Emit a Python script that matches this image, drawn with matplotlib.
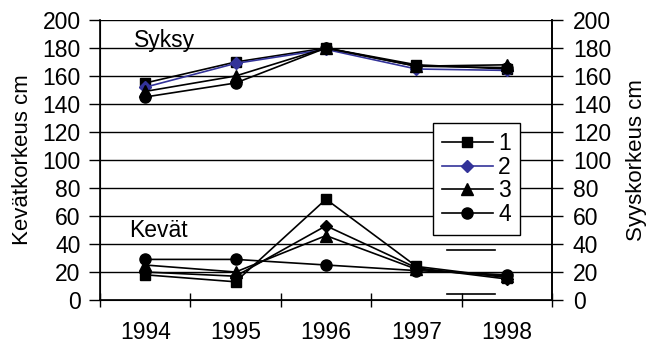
import numpy as np
import matplotlib
matplotlib.use("Agg")
import matplotlib.pyplot as plt

plt.rcParams['font.family'] = ['Liberation Sans', 'DejaVu Sans']

years = ['1994', '1995', '1996', '1997', '1998']
labels = ['1', '2', '3', '4']

# autumn (Syksy) heights
syksy_1 = [155, 170, 180, 168, 165]
syksy_2 = [152, 169, 179, 165, 164]
syksy_3 = [149, 160, 180, 167, 168]
syksy_4 = [145, 155, 180, 167, 166]

# spring (Kevät) heights
kevat_1 = [18, 13, 72, 24, 16]
kevat_2 = [20, 17, 53, 23, 15]
kevat_3 = [25, 20, 46, 22, 17]
kevat_4 = [29, 29, 25, 21, 18]

yticks = list(range(0, 201, 20))

styles = [
    dict(color='black', marker='s', markersize=7),
    dict(color='#333399', marker='D', markersize=6),
    dict(color='black', marker='^', markersize=8),
    dict(color='black', marker='o', markersize=8),
]
# spring series are all drawn in black
kevat_styles = [dict(s, color='black') for s in styles]

fs = 16.5
lab_fs = 16

fig = plt.figure(figsize=(6.48, 3.45), dpi=100)
ax = fig.add_axes([100 / 648, 45 / 345, 452 / 648, 280 / 345])

x = np.arange(len(years))
syksy = [syksy_1, syksy_2, syksy_3, syksy_4]
kevat = [kevat_1, kevat_2, kevat_3, kevat_4]

handles = []
for i in range(4):
    h, = ax.plot(x, syksy[i], lw=1.2, zorder=3, **styles[i])
    ax.plot(x, kevat[i], lw=1.2, zorder=3, **kevat_styles[i])
    handles.append(h)

ax.set_xlim(-0.5, len(years) - 0.5)
ax.set_ylim(0, 200)
ax.set_yticks(yticks)
ax.yaxis.grid(True, color='black', lw=1)
ax.set_axisbelow(True)

ax.set_xticks(x)
ax.set_xticklabels(years, fontsize=fs)
ax.set_xticks(np.arange(-0.5, len(years)), minor=True)
ax.tick_params(axis='x', which='major', length=0, pad=15)
ax.tick_params(axis='x', which='minor', direction='inout', length=10, width=1)
ax.tick_params(axis='y', direction='out', length=8, width=1, labelsize=fs, pad=6)

ax.spines['top'].set_visible(False)
for side in ['left', 'bottom', 'right']:
    ax.spines[side].set_linewidth(1.2)

ax.set_ylabel('Kevätkorkeus cm', fontsize=lab_fs, labelpad=7)

ax2 = ax.twinx()
ax2.set_ylim(0, 200)
ax2.set_yticks(yticks)
ax2.tick_params(axis='y', direction='out', length=8, width=1, labelsize=fs, pad=7)
ax2.spines['top'].set_visible(False)
ax2.spines['right'].set_linewidth(1.2)
ax2.set_ylabel('Syyskorkeus cm', fontsize=lab_fs, labelpad=11)

ax.text(0.075, 0.905, 'Syksy', transform=ax.transAxes, fontsize=fs)
ax.text(0.065, 0.225, 'Kevät', transform=ax.transAxes, fontsize=fs)

leg = ax2.legend(handles, labels, loc='upper left',
                 bbox_to_anchor=((433 - 100) / 452, (300 - 123) / 280),
                 borderaxespad=0, fontsize=fs, handlelength=2.2,
                 handletextpad=0.25, labelspacing=0.02, borderpad=0.4,
                 fancybox=False, edgecolor='black', framealpha=1)
leg.get_frame().set_linewidth(1)

# stray legend strokes below the box
for yy in [229, 250, 294]:
    ax.plot([(447 - 100) / 452, (495 - 100) / 452],
            [(300 - yy) / 280] * 2, transform=ax.transAxes,
            color='black', lw=1.2, clip_on=False, zorder=4)

fig.savefig('out.png', dpi=100)
